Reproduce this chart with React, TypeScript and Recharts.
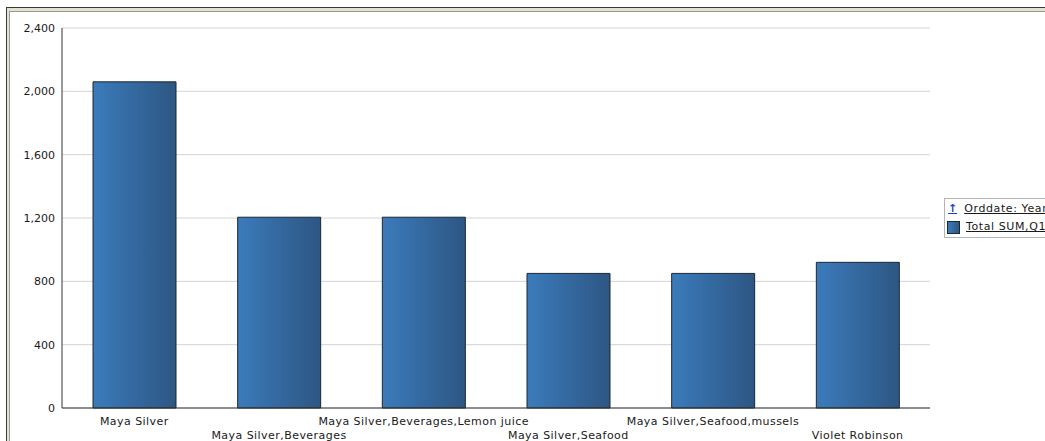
import { BarChart, Bar, XAxis, YAxis, CartesianGrid } from "recharts";

const categories = [
  "Maya Silver",
  "Maya Silver,Beverages",
  "Maya Silver,Beverages,Lemon juice",
  "Maya Silver,Seafood",
  "Maya Silver,Seafood,mussels",
  "Violet Robinson",
];
const totals = [2060, 1205, 1205, 850, 850, 920];
const yTicks = [0, 400, 800, 1200, 1600, 2000, 2400];
const legendItems = ["Orddate: Year", "Total SUM,Q1"];

const data = categories.map((name, i) => ({ name, total: totals[i] }));

const font = "'DejaVu Sans', Verdana, sans-serif";

// staggered category labels: odd ones drop to a second row
function StaggerTick(props: any) {
  const { x, y, payload, index } = props;
  return (
    <text
      x={x}
      y={y}
      dy={index % 2 === 1 ? 31 : 17}
      textAnchor="middle"
      fontSize={11}
      fontFamily={font}
      letterSpacing={0.45}
      fill="#1a1a1a"
    >
      {payload.value}
    </text>
  );
}

export default function App() {
  return (
    <div
      style={{
        position: "absolute",
        left: 0,
        top: 0,
        width: 1045,
        height: 441,
        background: "#fff",
        overflow: "hidden",
        fontFamily: font,
      }}
    >
      {/* window frame */}
      <div
        style={{
          position: "absolute",
          left: 6,
          top: 7,
          width: 1045,
          height: 441,
          borderTop: "1px solid #3a3a3a",
          borderLeft: "1px solid #3a3a3a",
        }}
      >
        <div
          style={{
            width: "100%",
            height: "100%",
            borderTop: "3px solid #e4e1cf",
            borderLeft: "2px solid #e4e1cf",
          }}
        >
          <div
            style={{
              width: "100%",
              height: "100%",
              borderTop: "1px solid #9a9a9a",
              borderLeft: "1px solid #9a9a9a",
            }}
          />
        </div>
      </div>

      <div style={{ position: "absolute", left: 0, top: 0 }}>
        <BarChart
          width={1045}
          height={441}
          data={data}
          margin={{ top: 28, right: 115, bottom: 0, left: 0 }}
        >
          <defs>
            <linearGradient id="barFill" x1="0" y1="0" x2="1" y2="0">
              <stop offset="0%" stopColor="#3b7bbb" />
              <stop offset="100%" stopColor="#2d5683" />
            </linearGradient>
          </defs>
          <CartesianGrid vertical={false} stroke="#d4d4d4" />
          <XAxis
            dataKey="name"
            interval={0}
            height={33}
            tickLine={false}
            tickSize={0}
            tickMargin={0}
            axisLine={{ stroke: "#333" }}
            tick={<StaggerTick />}
          />
          <YAxis
            width={62}
            domain={[0, 2400]}
            ticks={yTicks}
            tickLine={false}
            tickSize={0}
            tickMargin={7}
            axisLine={{ stroke: "#333" }}
            tick={{ fontSize: 11, fontFamily: font, fill: "#1a1a1a" }}
            tickFormatter={(v: number) => v.toLocaleString("en-US")}
          />
          <YAxis
            yAxisId="frame"
            orientation="right"
            width={0}
            tick={false}
            tickLine={false}
            axisLine={{ stroke: "#cfcfcf" }}
          />
          <Bar
            dataKey="total"
            barSize={83}
            fill="url(#barFill)"
            stroke="#1c2733"
            strokeWidth={1}
            isAnimationActive={false}
          />
        </BarChart>
      </div>

      {/* legend */}
      <div
        style={{
          position: "absolute",
          left: 944,
          top: 198,
          width: 120,
          height: 38,
          border: "1px solid #b4b4b4",
          background: "#fff",
          fontSize: 11,
          color: "#1a1a1a",
        }}
      >
        <div style={{ position: "absolute", left: 3, top: 3, whiteSpace: "nowrap", lineHeight: "14px" }}>
          <span style={{ color: "#1a3ccc", fontWeight: "bold", textDecoration: "underline", marginRight: 7 }}>↑</span>
          <span style={{ textDecoration: "underline", letterSpacing: 0.6 }}>{legendItems[0]}</span>
        </div>
        <div style={{ position: "absolute", left: 2, top: 21, whiteSpace: "nowrap", lineHeight: "14px", display: "flex", alignItems: "center" }}>
          <span
            style={{
              display: "inline-block",
              width: 11,
              height: 11,
              background: "linear-gradient(to right, #3b7bbb, #2d5683)",
              border: "1px solid #1c2733",
              marginRight: 6,
            }}
          />
          <span style={{ textDecoration: "underline", letterSpacing: 0.6 }}>{legendItems[1]}</span>
        </div>
      </div>
    </div>
  );
}
